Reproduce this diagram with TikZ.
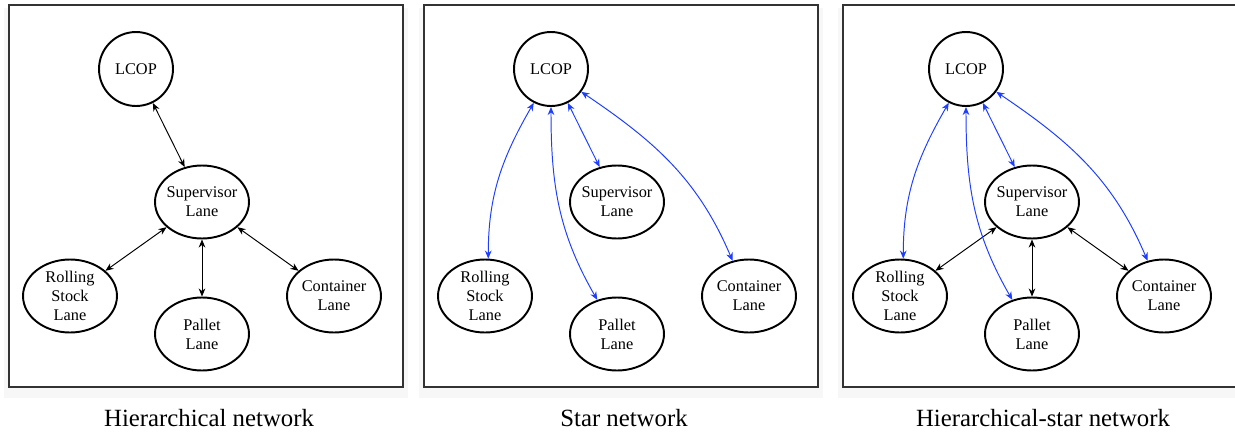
\documentclass[tikz,border=0pt]{standalone}
\usepackage{fontspec}
\setmainfont{Liberation Serif}
\usetikzlibrary{arrows.meta,shapes.geometric}

\definecolor{linkblue}{RGB}{30,62,255}

\begin{document}
\begin{tikzpicture}[x=0.02cm,y=-0.02cm,>={Stealth[length=4.6pt,width=3.8pt]},
    panel/.style={draw=black!80,fill=white,line width=0.6pt},
    glow/.style={fill=black!3},
    hub/.style={circle,draw,line width=1.1pt,minimum size=1.48cm,inner sep=0pt,
        font=\fontsize{9.3}{10.8}\selectfont},
    lane/.style={ellipse,draw,line width=1.1pt,minimum width=1.88cm,minimum height=1.46cm,
        inner xsep=-2pt,inner ysep=0pt,align=center,font=\fontsize{9.3}{10.8}\selectfont},
    hier/.style={<->,black,line width=0.55pt},
    star/.style={<->,linkblue,line width=0.55pt},
    caption/.style={anchor=base,font=\fontsize{14.1}{16}\selectfont}]
  \useasboundingbox (0,0) rectangle (1235,433);
  % three panels with the same five lanes
  \foreach \p/\dx/\bx/\cap in {h/0/9/Hierarchical network,s/415/424/Star network,m/830/843/Hierarchical-star network}{
    \fill[glow] ({\bx-5},8) rectangle ({\bx+399},398);
    \draw[panel] (\bx,5) rectangle ({\bx+394},387);
    \node[hub]  (\p-lcop) at ({136+\dx},69)  {LCOP};
    \node[lane] (\p-sup)  at ({202+\dx},202) {Supervisor\\Lane};
    \node[lane] (\p-roll) at ({70+\dx},296)  {Rolling\\Stock\\Lane};
    \node[lane] (\p-pal)  at ({202+\dx},334) {Pallet\\Lane};
    \node[lane] (\p-cont) at ({334+\dx},296) {Container\\Lane};
    \node[caption] (\p-cap) at ({\bx+200},426) {\cap};
  }
  % hierarchical links
  \draw[hier] (h-lcop) -- (h-sup);
  \foreach \p in {h,m}{
    \draw[hier] (\p-sup) -- (\p-roll);
    \draw[hier] (\p-sup) -- (\p-pal);
    \draw[hier] (\p-sup) -- (\p-cont);
  }
  % star links
  \foreach \p in {s,m}{
    \draw[star] (\p-lcop) -- (\p-sup);
    \draw[star] (\p-lcop.243) to[out=240,in=90] (\p-roll.85);
    \draw[star] (\p-lcop.270) to[out=270,in=120] (\p-pal.120);
    \draw[star] (\p-lcop.323) to[out=326,in=113] (\p-cont.115);
  }
\end{tikzpicture}
\end{document}
